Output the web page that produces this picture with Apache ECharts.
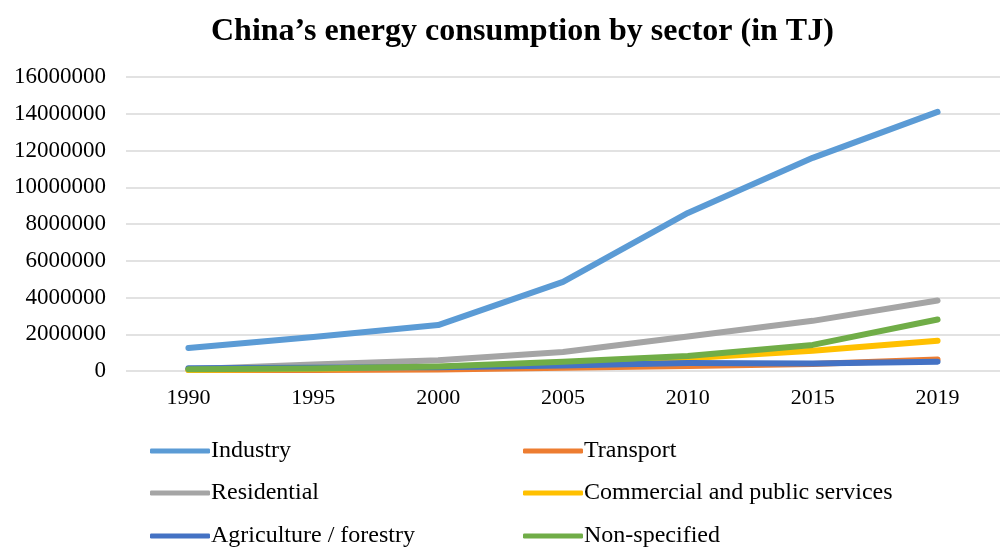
<!DOCTYPE html>
<html><head><meta charset="utf-8">
<script src="https://cdn.jsdelivr.net/npm/echarts@6/dist/echarts.min.js"></script>
<style>html,body{margin:0;padding:0;background:#fff}#c{width:1000px;height:548px}</style>
</head><body><div id="c"></div>
<script>
const years = ['1990','1995','2000','2005','2010','2015','2019'];
const yTicks = [0,2000000,4000000,6000000,8000000,10000000,12000000,14000000,16000000];
const industry = [1250000, 1850000, 2500000, 4850000, 8600000, 11600000, 14100000];
const transport = [50000, 60000, 80000, 180000, 270000, 380000, 630000];
const residential = [100000, 350000, 580000, 1030000, 1880000, 2730000, 3840000];
const commercial = [50000, 120000, 220000, 450000, 700000, 1100000, 1650000];
const agriculture = [150000, 180000, 200000, 300000, 430000, 410000, 510000];
const nonSpecified = [100000, 140000, 250000, 500000, 820000, 1420000, 2800000];

const names = ['Industry','Transport','Residential','Commercial and public services','Agriculture / forestry','Non-specified'];
const values = [industry, transport, residential, commercial, agriculture, nonSpecified];
const colors = ['#5B9BD5','#ED7D31','#A5A5A5','#FFC000','#4472C4','#70AD47'];
const FONT = "'Liberation Serif','Times New Roman',serif";

const chart = echarts.init(document.getElementById('c'), null, {renderer:'canvas'});
const legendCols = [145, 518];
const legendRows = [434, 476, 519];
const legends = names.map((n,i)=>({
  left: legendCols[i%2], top: legendRows[Math.floor(i/2)],
  data:[n], icon:'roundRect', itemWidth:60, itemHeight:5,
  textStyle:{fontFamily:FONT, fontSize:24, color:'#000', lineHeight:24, padding:[0,0,0,-4]},
  selectedMode:false
}));
chart.setOption({
  animation:false,
  backgroundColor:'#fff',
  color: colors,
  title:{text:'China\u2019s energy consumption by sector (in TJ)', left:206, top:11,
    textStyle:{fontFamily:FONT, fontWeight:'bold', fontSize:32, color:'#000'}},
  grid:{left:126, top:77, width:884, height:294},
  legend: legends,
  xAxis:{type:'category', data:years, boundaryGap:true,
    axisLine:{show:false}, axisTick:{show:false},
    axisLabel:{fontFamily:FONT, fontSize:22, color:'#000', margin:16}},
  yAxis:{type:'value', min:yTicks[0], max:yTicks[yTicks.length-1], interval:yTicks[1]-yTicks[0],
    axisLine:{show:false}, axisTick:{show:false},
    splitLine:{lineStyle:{color:'#d9d9d9', width:1.5}},
    axisLabel:{fontFamily:FONT, fontSize:23, color:'#000', margin:20, formatter:(v)=>String(v)}},
  series: names.map((n,i)=>({
    name:n, type:'line', data:values[i], symbol:'none', smooth:false,
    lineStyle:{width:6, color:colors[i], cap:'round', join:'round'},
    itemStyle:{color:colors[i]}
  }))
});
</script></body></html>
